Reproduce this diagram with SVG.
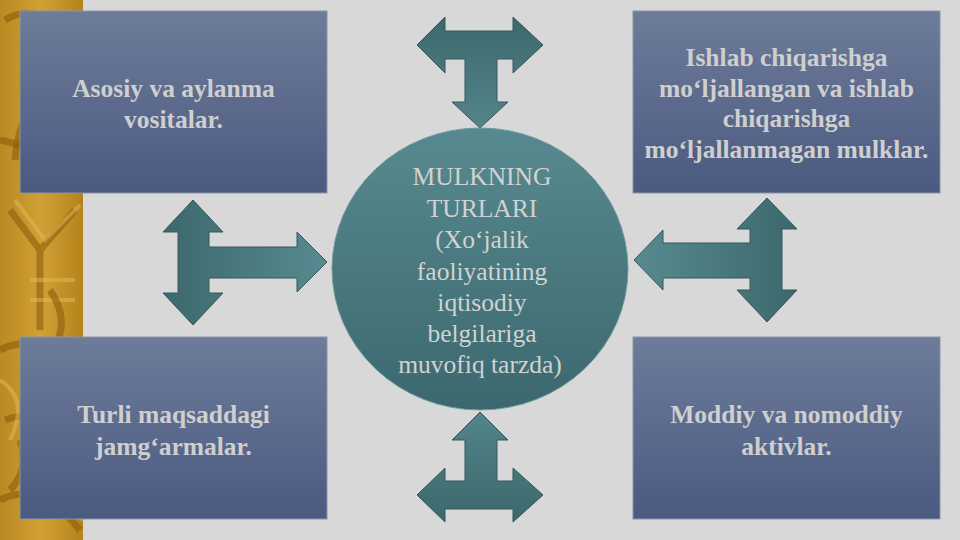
<svg xmlns="http://www.w3.org/2000/svg" width="960" height="540" viewBox="0 0 960 540">
<defs>
<linearGradient id="boxg" x1="0" y1="0" x2="0" y2="1">
<stop offset="0" stop-color="#6e7c9a"/>
<stop offset="1" stop-color="#4a5a80"/>
</linearGradient>
<linearGradient id="circg" x1="0" y1="0" x2="0" y2="1">
<stop offset="0" stop-color="#578a90"/>
<stop offset="1" stop-color="#3b686e"/>
</linearGradient>
<linearGradient id="arrH" x1="0" y1="0" x2="1" y2="0">
<stop offset="0" stop-color="#3c686c"/>
<stop offset="1" stop-color="#578b91"/>
</linearGradient>
<linearGradient id="arrHr" x1="1" y1="0" x2="0" y2="0">
<stop offset="0" stop-color="#3c686c"/>
<stop offset="1" stop-color="#578b91"/>
</linearGradient>
<linearGradient id="arrV" x1="0" y1="0" x2="0" y2="1">
<stop offset="0" stop-color="#3c686c"/>
<stop offset="1" stop-color="#52858b"/>
</linearGradient>
<linearGradient id="arrVr" x1="0" y1="1" x2="0" y2="0">
<stop offset="0" stop-color="#3c686c"/>
<stop offset="1" stop-color="#52858b"/>
</linearGradient>
<linearGradient id="gold" x1="0" y1="0" x2="1" y2="0">
<stop offset="0" stop-color="#b98a22"/>
<stop offset="0.5" stop-color="#d1a035"/>
<stop offset="1" stop-color="#b4841c"/>
</linearGradient>
</defs>
<style>
.box{fill:url(#boxg);stroke:#8a94a8;stroke-width:1}
.bt{font-weight:bold;font-size:25.5px;fill:#cfcfcf;text-anchor:middle}
.ct{font-size:25.5px;fill:#d2d2d2;text-anchor:middle}
.arr{stroke:#36585c;stroke-width:1;stroke-linejoin:miter}
.gd{fill:none;stroke:#8a5e0c;stroke-width:7;opacity:0.6}
.gl{fill:none;stroke:#e2bb55;stroke-width:4;opacity:0.5}
</style>
<rect x="0" y="0" width="960" height="540" fill="#d8d8d8"/>
<g id="strip">
<rect x="0" y="0" width="83" height="540" fill="url(#gold)"/>
<path class="gd" d="M5 20 Q40 0 60 40 T30 110 M0 140 Q50 150 70 190 M10 210 L40 250 L75 210 M40 250 L40 330 M0 350 Q40 330 80 370 M5 420 Q60 400 70 470 M0 500 Q40 480 80 530"/>
<path class="gl" d="M15 200 L45 240 L80 205 M30 280 L75 280 M30 300 L75 300 M0 380 Q30 400 10 440 M40 520 Q60 500 83 520"/>
<path class="gd" d="M60 80 Q20 100 15 160 M50 290 Q70 320 55 345 M20 440 Q30 470 10 490" stroke-width="4"/>
</g>
<g id="connectors">
<path id="arrow-top" class="arr" fill="url(#arrV)" d="M417 45 L445 17 L445 31 L513 31 L513 17 L543 45 L513 73 L513 59 L497 59 L497 102 L508 102 L480 128 L452 102 L465 102 L465 59 L445 59 L445 73 Z"/>
<path id="arrow-bottom" class="arr" fill="url(#arrVr)" d="M480 412 L508 440 L497 440 L497 481 L513 481 L513 468 L543 495 L513 522 L513 509 L445 509 L445 522 L417 495 L445 468 L445 481 L465 481 L465 440 L452 440 Z"/>
<path id="arrow-left" class="arr" fill="url(#arrH)" d="M193 200 L223 232 L209 232 L209 247 L297 247 L297 232 L327 262 L297 292 L297 278 L209 278 L209 293 L223 293 L193 325 L163 293 L178 293 L178 232 L163 232 Z"/>
<path id="arrow-right" class="arr" fill="url(#arrHr)" d="M767 198 L797 229 L782 229 L782 290 L797 290 L767 322 L737 290 L750 290 L750 278 L663 278 L663 290 L634 260 L663 230 L663 243 L750 243 L750 229 L737 229 Z"/>
</g>
<g id="center" font-family="'Liberation Serif', 'Times New Roman', Tinos, serif">
<ellipse cx="480" cy="269" rx="148" ry="141" fill="url(#circg)" stroke="#6f9a9e" stroke-width="1"/>
<text class="ct" x="482" y="185">MULKNING</text>
<text class="ct" x="482" y="217">TURLARI</text>
<text class="ct" x="482" y="248">(Xo‘jalik</text>
<text class="ct" x="482" y="280">faoliyatining</text>
<text class="ct" x="482" y="311">iqtisodiy</text>
<text class="ct" x="482" y="342">belgilariga</text>
<text class="ct" x="480" y="373">muvofiq tarzda)</text>
</g>
<g id="box-tl" font-family="'Liberation Serif', 'Times New Roman', Tinos, serif">
<rect class="box" x="20" y="11" width="307" height="182"/>
<text class="bt" x="173.5" y="97">Asosiy va aylanma</text>
<text class="bt" x="173.5" y="128">vositalar.</text>
</g>
<g id="box-tr" font-family="'Liberation Serif', 'Times New Roman', Tinos, serif">
<rect class="box" x="633" y="11" width="307" height="182"/>
<text class="bt" x="786.5" y="66">Ishlab chiqarishga</text>
<text class="bt" x="786.5" y="97">mo‘ljallangan va ishlab</text>
<text class="bt" x="786.5" y="127">chiqarishga</text>
<text class="bt" x="786.5" y="158">mo‘ljallanmagan mulklar.</text>
</g>
<g id="box-bl" font-family="'Liberation Serif', 'Times New Roman', Tinos, serif">
<rect class="box" x="20" y="337" width="307" height="182"/>
<text class="bt" x="173.5" y="423">Turli maqsaddagi</text>
<text class="bt" x="173.5" y="455">jamg‘armalar.</text>
</g>
<g id="box-br" font-family="'Liberation Serif', 'Times New Roman', Tinos, serif">
<rect class="box" x="633" y="337" width="307" height="182"/>
<text class="bt" x="786.5" y="423">Moddiy va nomoddiy</text>
<text class="bt" x="786.5" y="455">aktivlar.</text>
</g>
</svg>
